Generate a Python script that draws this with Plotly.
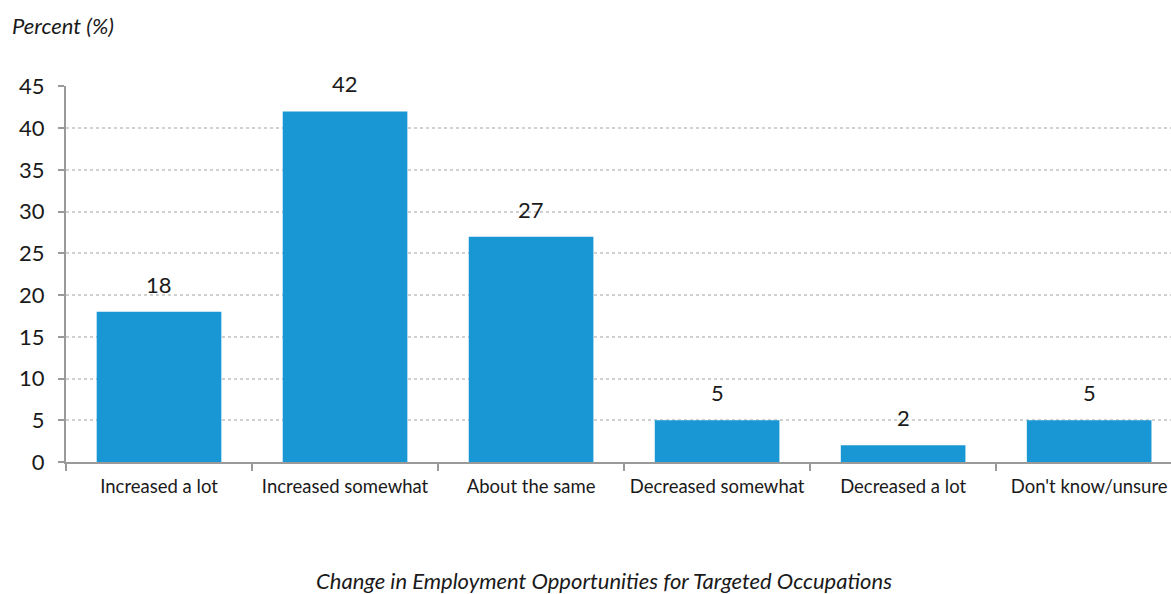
import plotly.graph_objects as go

categories = ["Increased a lot", "Increased somewhat", "About the same",
              "Decreased somewhat", "Decreased a lot", "Don't know/unsure"]
percent = [18, 42, 27, 5, 2, 5]
y_ticks = [0, 5, 10, 15, 20, 25, 30, 35, 40, 45]

FONT = "Lato, 'Open Sans', sans-serif"
BAR = "#1996d4"
AXIS = "#9a9a9a"

fig = go.Figure()
fig.add_trace(go.Bar(
    x=categories, y=percent,
    marker=dict(color=BAR, line=dict(width=0)),
    width=0.67,
    hoverinfo="x+y",
))

for c, v in zip(categories, percent):
    fig.add_annotation(x=c, y=v, text=str(v), showarrow=False,
                       yanchor="bottom", yshift=12,
                       font=dict(family=FONT, size=22, color="#1a1a1a"))

fig.add_annotation(xref="paper", yref="paper", x=-0.0507, y=1.0, yshift=61,
                   xanchor="left", yanchor="middle", showarrow=False,
                   text="<i>Percent (%)</i>",
                   font=dict(family=FONT, size=22, color="#1a1a1a"))
fig.add_annotation(xref="paper", yref="paper", x=0.487, y=0, yshift=-118,
                   xanchor="center", yanchor="middle", showarrow=False,
                   text="<i>Change in Employment Opportunities for Targeted Occupations</i>",
                   font=dict(family=FONT, size=22, color="#1a1a1a"))

fig.update_layout(
    width=1171, height=594,
    margin=dict(l=66, r=0, t=86, b=132),
    paper_bgcolor="white", plot_bgcolor="white",
    showlegend=False,
    font=dict(family=FONT, color="#1a1a1a"),
    xaxis=dict(
        type="category", range=[-0.5, 5.44],
        showline=True, linecolor=AXIS, linewidth=2,
        ticks="outside", tickson="boundaries", ticklen=7, tickcolor=AXIS, tickwidth=2,
        tickfont=dict(family=FONT, size=18.5, color="#1a1a1a"),
        ticklabelstandoff=7,
        showgrid=False, zeroline=False,
    ),
    yaxis=dict(
        range=[0, 45.05], tickvals=y_ticks,
        showline=True, linecolor=AXIS, linewidth=2,
        ticks="outside", ticklen=6, tickcolor=AXIS, tickwidth=2,
        tickfont=dict(family=FONT, size=22, color="#1a1a1a"),
        ticklabelstandoff=9,
        showgrid=True, gridcolor="#d0d0d0", griddash="dot", gridwidth=1.5,
        zeroline=False,
    ),
)

fig.write_html("out.html")
